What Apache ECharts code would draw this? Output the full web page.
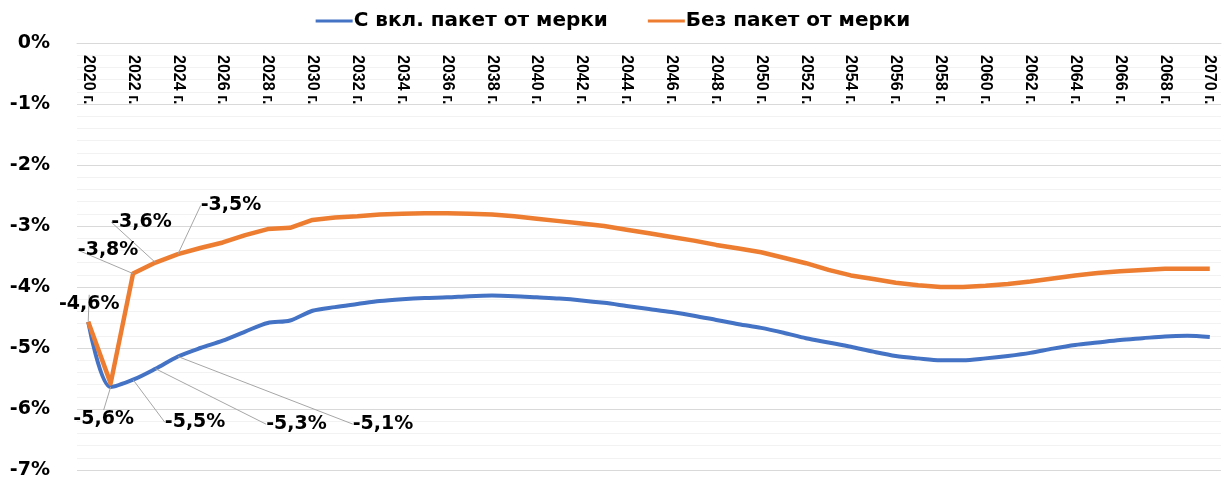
<!DOCTYPE html>
<html>
<head>
<meta charset="utf-8">
<script src="https://cdn.jsdelivr.net/npm/echarts@6/dist/echarts.min.js"></script>
<style>
  html, body { margin: 0; padding: 0; background: #fff; }
  #main { width: 1226px; height: 482px; }
</style>
</head>
<body>
<div id="main"></div>
<script>
// години
const years = [];
for (let y = 2020; y <= 2070; y++) years.push(y + ' г.');

// С вкл. пакет от мерки
const withMeasures = [
  -4.57, -5.64, -5.52, -5.34, -5.14, -5.00, -4.88, -4.73, -4.59, -4.55,
  -4.39, -4.33, -4.28, -4.23, -4.20, -4.18, -4.17, -4.15, -4.14, -4.15,
  -4.17, -4.19, -4.22, -4.26, -4.31, -4.36, -4.41, -4.47, -4.54, -4.61,
  -4.67, -4.75, -4.84, -4.91, -4.98, -5.06, -5.13, -5.17, -5.20, -5.20,
  -5.17, -5.13, -5.08, -5.01, -4.95, -4.91, -4.87, -4.84, -4.81, -4.80,
  -4.82
];
// Без пакет от мерки
const noMeasures = [
  -4.57, -5.58, -3.78, -3.60, -3.46, -3.36, -3.27, -3.15, -3.05, -3.03,
  -2.90, -2.86, -2.84, -2.81, -2.80, -2.79, -2.79, -2.80, -2.81, -2.84,
  -2.88, -2.92, -2.96, -3.00, -3.06, -3.12, -3.18, -3.24, -3.31, -3.37,
  -3.43, -3.52, -3.61, -3.72, -3.81, -3.87, -3.93, -3.97, -4.00, -4.00,
  -3.98, -3.95, -3.91, -3.86, -3.81, -3.77, -3.74, -3.72, -3.70, -3.70,
  -3.70
];

// кои точки имат етикет и накъде е изместен
const blueLabels = { 1: [-7, 42], 2: [62, 52], 3: [141, 65], 4: [205, 77] };
const orangeLabels = { 0: [1, -8], 2: [-25, -14], 3: [-14, -31], 4: [53, -39] };

const fmt = v => v.toFixed(1).replace('.', ',') + '%';

function withLabels(values, marks) {
  return values.map((v, i) => ({
    value: v,
    label: { show: marks[i] !== undefined }
  }));
}

function layoutFn(marks) {
  return function (p) {
    const m = marks[p.dataIndex];
    if (!m) return {};
    return { dx: m[0], dy: m[1] };
  };
}

const labelStyle = {
  position: 'top',
  distance: 0,
  fontFamily: 'DejaVu Sans',
  fontWeight: 'bold',
  fontSize: 19,
  color: '#000',
  formatter: p => fmt(p.value)
};

const myChart = echarts.init(document.getElementById('main'));
myChart.setOption({
  animation: false,
  color: ['#4472C4', '#ED7D31'],
  legend: {
    top: 6,
    left: 'center',
    icon: 'rect',
    itemWidth: 37,
    itemHeight: 3,
    itemGap: 40,
    textStyle: { fontFamily: 'DejaVu Sans', fontWeight: 'bold', fontSize: 20, color: '#000', padding: [0, 0, 0, -4] }
  },
  grid: { left: 77, right: 5, top: 43, bottom: 12, containLabel: false },
  xAxis: {
    type: 'category',
    data: years,
    position: 'top',
    boundaryGap: true,
    axisLine: { show: true, lineStyle: { color: '#d9d9d9' } },
    axisTick: { show: false },
    axisLabel: {
      inside: true,
      interval: 1,
      rotate: -90,
      margin: 12,
      fontFamily: "'Liberation Sans', sans-serif",
      fontWeight: 'bold',
      fontSize: 16,
      color: '#000'
    }
  },
  yAxis: {
    type: 'value',
    min: -7,
    max: 0,
    interval: 1,
    axisLine: { show: false },
    axisTick: { show: false },
    axisLabel: {
      margin: 27,
      formatter: v => v + '%',
      fontFamily: 'DejaVu Sans',
      fontWeight: 'bold',
      fontSize: 19,
      color: '#000'
    },
    splitLine: { lineStyle: { color: '#d9d9d9', width: 1 } },
    minorTick: { show: false, splitNumber: 5 },
    minorSplitLine: { show: true, lineStyle: { color: '#f2f2f2', width: 1 } }
  },
  series: [
    {
      name: 'С вкл. пакет от мерки',
      type: 'line',
      data: withLabels(withMeasures, blueLabels),
      smooth: 0.3,
      showSymbol: true,
      symbolSize: 0,
      lineStyle: { width: 4, color: '#4472C4' },
      label: labelStyle,
      labelLine: { show: true, lineStyle: { color: '#a6a6a6', width: 1 } },
      labelLayout: layoutFn(blueLabels)
    },
    {
      name: 'Без пакет от мерки',
      type: 'line',
      data: withLabels(noMeasures, orangeLabels),
      smooth: false,
      showSymbol: true,
      symbolSize: 0,
      lineStyle: { width: 4.5, color: '#ED7D31', join: 'round' },
      label: labelStyle,
      labelLine: { show: true, lineStyle: { color: '#a6a6a6', width: 1 } },
      labelLayout: layoutFn(orangeLabels)
    }
  ]
});
</script>
</body>
</html>
